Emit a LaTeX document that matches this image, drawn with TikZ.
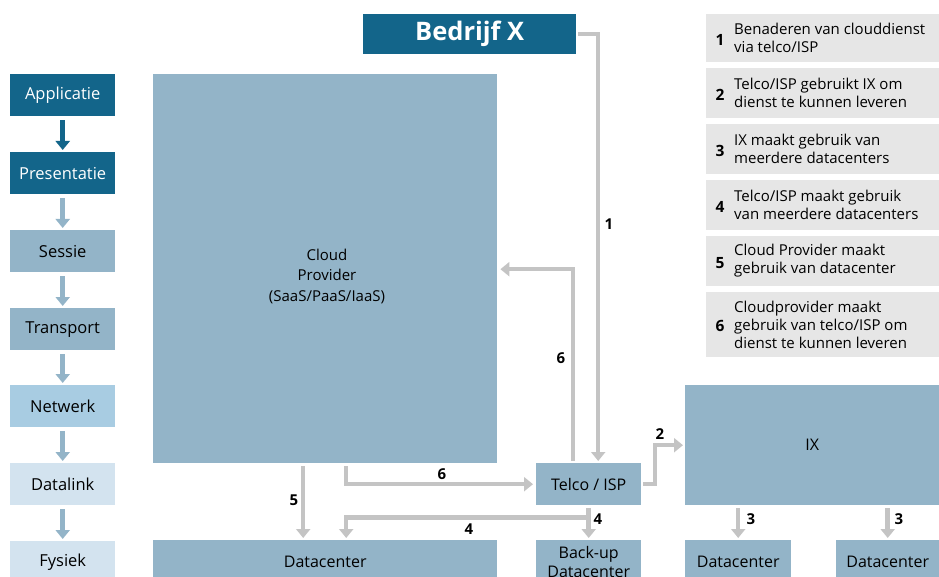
\documentclass[tikz,border=0pt]{standalone}
\usepackage{fontspec}
\setmainfont{Open Sans}
\usetikzlibrary{arrows.meta,calc}
\definecolor{dark}{HTML}{13658A}
\definecolor{mid}{HTML}{93B4C8}
\definecolor{net}{HTML}{A8CCE2}
\definecolor{light}{HTML}{D3E3EF}
\definecolor{conngray}{HTML}{C4C4C4}
\definecolor{legbg}{HTML}{E6E6E6}
\tikzset{
  box/.style={rectangle, fill=mid, draw=none, inner sep=0pt, anchor=north west, align=center, text=black, font=\fontsize{16}{19}\selectfont},
  layer/.style={box, minimum width=105pt, minimum height=42pt, font=\fontsize{16.5}{19}\selectfont},
  conn/.style={draw=conngray, line width=4.5pt, -{Triangle[length=9pt,width=14pt]}},
  larr/.style={draw=mid, line width=4.5pt, -{Triangle[length=9pt,width=14pt]}},
  lab/.style={font=\bfseries\fontsize{15}{17}\selectfont, inner sep=0pt},
  legbox/.style={rectangle, fill=legbg, draw=none, inner sep=0pt, anchor=north west, minimum width=233pt},
  legnum/.style={font=\bfseries\fontsize{15.5}{17}\selectfont, inner sep=0pt},
  legtxt/.style={font=\fontsize{15}{18}\selectfont, inner sep=0pt, anchor=west, align=left},
}
\begin{document}
\begin{tikzpicture}[x=1pt,y=-1pt]
\useasboundingbox (0,0) rectangle (939,577);
\clip (0,0) rectangle (939,577);
% Bedrijf X
\node[box, fill=dark, text=white, minimum width=213pt, minimum height=40pt, font=\bfseries\fontsize{25.5}{28}\selectfont] (bx) at (363,14) {Bedrijf X};
% layers
\node[layer, fill=dark, text=white] (app) at (10,74) {Applicatie};
\node[layer, fill=dark, text=white] (pres) at (10,152) {Presentatie};
\node[layer, fill=mid] (ses) at (10,230) {Sessie};
\node[layer, fill=mid] (tra) at (10,308) {Transport};
\node[layer, fill=net] (netw) at (10,385) {Netwerk};
\node[layer, fill=light] (dl) at (10,463) {Datalink};
\node[layer, fill=light] (fys) at (10,541) {Fysiek};
\draw[larr, draw=dark] ([yshift=-4pt]app.south) -- ([yshift=2pt]pres.north);
\draw[larr] ([yshift=-4pt]pres.south) -- ([yshift=2pt]ses.north);
\draw[larr] ([yshift=-4pt]ses.south) -- ([yshift=2pt]tra.north);
\draw[larr] ([yshift=-4pt]tra.south) -- ([yshift=2pt]netw.north);
\draw[larr] ([yshift=-4pt]netw.south) -- ([yshift=2pt]dl.north);
\draw[larr] ([yshift=-4pt]dl.south) -- ([yshift=2pt]fys.north);
% main boxes
\node[box, minimum width=344pt, minimum height=389pt] (cp) at (153,74) {};
\node[align=center, inner sep=0pt, font=\fontsize{15}{20.5}\selectfont] (cptext) at (327,276) {Cloud\\Provider\\(SaaS/PaaS/IaaS)};
\node[box, minimum width=344pt, minimum height=44pt] (dc1) at (153,540) {Datacenter};
\node[box, minimum width=105pt, minimum height=42pt] (tel) at (536,463) {Telco / ISP};
\node[box, minimum width=105pt, minimum height=44pt, font=\fontsize{16}{19}\selectfont] (bk) at (536,540) {Back-up\\Datacenter};
\node[box, minimum width=254pt, minimum height=120pt] (ix) at (685,385) {IX};
\node[box, minimum width=106pt, minimum height=44pt] (dca) at (685,540) {Datacenter};
\node[box, minimum width=103pt, minimum height=44pt] (dcb) at (836,540) {Datacenter};
% connectors
\draw[conn] ([xshift=2pt]bx.east) -| ([xshift=9.5pt,yshift=2pt]tel.north);
\draw[conn] ([xshift=-15.5pt,yshift=2pt]tel.north) |- ([xshift=3pt,yshift=-0.5pt]cp.east);
\draw[conn] ([xshift=21pt,yshift=-3pt]cp.south) |- ([xshift=-3pt]tel.west);
\draw[conn] ([xshift=-22pt,yshift=-3pt]cp.south) -- ([xshift=-22pt,yshift=2pt]dc1.north);
\coordinate (j4) at ([yshift=-12pt]tel.south);
\draw[conn] ([yshift=-3pt]tel.south) -- ([yshift=2pt]bk.north);
\draw[conn] (j4) -| ([xshift=21pt,yshift=2pt]dc1.north);
\draw[conn] ([xshift=2pt]tel.east) -| ($(tel.east)!0.5!(ix.west)+(-8,0)$) |- ([xshift=-2pt]ix.west);
\draw[conn] ([yshift=-3pt]ix.south -| dca.north) -- ([yshift=2pt]dca.north);
\draw[conn] ([yshift=-3pt]ix.south -| dcb.north) -- ([yshift=2pt]dcb.north);
% labels
\node[lab] (l1) at (609,224) {1};
\node[lab] (l6a) at (561,358) {6};
\node[lab] (l6b) at (442,474) {6};
\node[lab] (l5) at (294,500) {5};
\node[lab] (l4a) at (469,529) {4};
\node[lab] (l4b) at (598,519) {4};
\node[lab] (l2) at (660,434) {2};
\node[lab] (l3a) at (751,519) {3};
\node[lab] (l3b) at (899,519) {3};
% legend
\node[legbox, minimum height=48pt] (g1) at (706,14) {};
\node[legnum] (n1) at (720,40) {1};
\node[legtxt] (t1) at (734,38) {Benaderen van clouddienst\\via telco/ISP};
\node[legbox, minimum height=50pt] (g2) at (706,68) {};
\node[legnum] (n2) at (720,95) {2};
\node[legtxt] (t2) at (734,93) {Telco/ISP gebruikt IX om\\dienst te kunnen leveren};
\node[legbox, minimum height=50pt] (g3) at (706,124) {};
\node[legnum] (n3) at (720,151) {3};
\node[legtxt] (t3) at (734,149) {IX maakt gebruik van\\meerdere datacenters};
\node[legbox, minimum height=50pt] (g4) at (706,180) {};
\node[legnum] (n4) at (720,207) {4};
\node[legtxt] (t4) at (734,205) {Telco/ISP maakt gebruik\\van meerdere datacenters};
\node[legbox, minimum height=50pt] (g5) at (706,236) {};
\node[legnum] (n5) at (720,263) {5};
\node[legtxt] (t5) at (734,261) {Cloud Provider maakt\\gebruik van datacenter};
\node[legbox, minimum height=65pt] (g6) at (706,292) {};
\node[legnum] (n6) at (720,326) {6};
\node[legtxt] (t6) at (734,324.5) {Cloudprovider maakt\\gebruik van telco/ISP om\\dienst te kunnen leveren};
\end{tikzpicture}
\end{document}
